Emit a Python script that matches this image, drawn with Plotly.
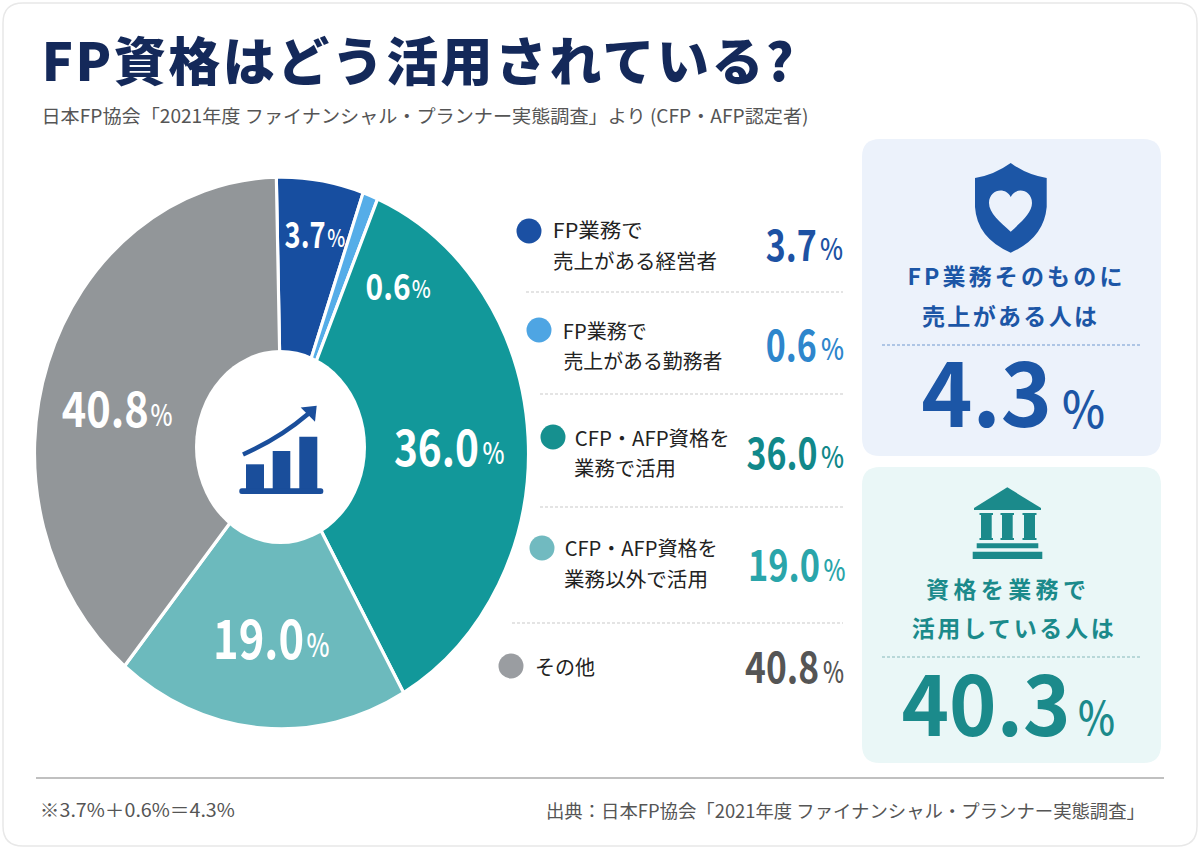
import json
import plotly.graph_objects as go

# ---- data ----
categories = ["FP業務で売上がある経営者", "FP業務で売上がある勤務者", "CFP・AFP資格を業務で活用", "CFP・AFP資格を業務以外で活用", "その他"]
printed_values = [3.7, 0.6, 36.0, 19.0, 40.8]
drawn_shares = [5.7, 1.0, 35.4, 19.2, 38.7]   # slice sizes as actually drawn in the reference
legend_line1 = ["FP業務で", "FP業務で", "CFP・AFP資格を", "CFP・AFP資格を", "その他"]
legend_line2 = ["売上がある経営者", "売上がある勤務者", "業務で活用", "業務以外で活用", ""]
slice_colors = ["#174EA0", "#55ADE8", "#12989A", "#6CBABD", "#929699"]
dot_colors = ["#1B50A3", "#4EA5E3", "#16908F", "#71BAC0", "#9A9DA1"]
value_colors = ["#1D52A3", "#2E86CC", "#11888A", "#2AA5AA", "#555555"]

CJK = "Noto Sans CJK JP, Noto Sans"
fits = []          # per annotation: [target width, length-adjust mode]
annotations = []


def text(x0, x1, y, s, size, color, weight=400, adjust="spacingAndGlyphs"):
    """Place text so its glyphs span x0..x1 with their optical centre on y."""
    fits.append([x1 - x0, adjust])
    annotations.append(dict(x=(x0 + x1) / 2, y=y - 0.09 * size, xref="x", yref="y", text=s, showarrow=False,
                            xanchor="center", yanchor="middle", borderpad=0,
                            font=dict(size=size, color=color, family=CJK, weight=weight)))


def round_rect(x0, y0, x1, y1, r):
    return (f"M{x0+r},{y0} L{x1-r},{y0} Q{x1},{y0} {x1},{y0+r} L{x1},{y1-r} Q{x1},{y1} {x1-r},{y1} "
            f"L{x0+r},{y1} Q{x0},{y1} {x0},{y1-r} L{x0},{y0+r} Q{x0},{y0} {x0+r},{y0} Z")


def path(d, fill, layer="above"):
    return dict(type="path", xref="x", yref="y", path=d, fillcolor=fill, line=dict(width=0), layer=layer)


def hline(y, x0, x1, color, width=1, dash="3px,2px"):
    return dict(type="line", xref="x", yref="y", x0=x0, x1=x1, y0=y, y1=y,
                line=dict(color=color, width=width, dash=dash), layer="above")


W, H = 1200, 849
CX, CY, RY, RX = 281.5, 453, 276, 247

fig = go.Figure()

# legend swatches give the page its pixel-based cartesian axes
dot_x = [529, 539, 553, 542, 511]
dot_y = [231, 330, 437, 548, 666]
fig.add_trace(go.Scatter(x=dot_x, y=dot_y, mode="markers", hoverinfo="skip", showlegend=False,
                         marker=dict(size=25, color=dot_colors, line=dict(width=0))))

fig.add_trace(go.Pie(values=drawn_shares, labels=categories, sort=False, direction="clockwise",
                     rotation=-1.2, textinfo="none", hoverinfo="label", showlegend=False,
                     marker=dict(colors=slice_colors, line=dict(color="white", width=3.5)),
                     domain=dict(x=[(CX - RY) / W, (CX + RY) / W], y=[1 - (CY + RY) / H, 1 - (CY - RY) / H])))

ICON = "#1A4E9B"
BLUE, TEAL = "#1C56A6", "#1B8A8B"
shapes = [
    dict(type="path", xref="x", yref="y", path=round_rect(3, 3, 1197, 846, 20), fillcolor="white",
         line=dict(color="#E8E8E8", width=1.5), layer="below"),
    path(round_rect(862, 139, 1161, 456, 18), "#ECF2FB", "below"),
    path(round_rect(862, 467, 1161, 763, 18), "#EAF7F7", "below"),
    # hub
    dict(type="circle", xref="x", yref="y", x0=195, x1=366, y0=350, y1=544, fillcolor="white",
         line=dict(width=0), layer="above"),
    # rising-chart icon
    path("M246,464.3 L264,464.3 L264,490 L246,490 Z", ICON),
    path("M272.7,451 L290.3,451 L290.3,490 L272.7,490 Z", ICON),
    path("M299.3,436.7 L317.3,436.7 L317.3,490 L299.3,490 Z", ICON),
    path(round_rect(239.3, 488.3, 323.3, 494, 2.5), ICON),
    dict(type="path", xref="x", yref="y", path="M243,454.5 Q280,438 308,414",
         line=dict(color=ICON, width=4.5), layer="above"),
    path("M316.7,405.7 L300.7,407.5 L315,421.7 Z", ICON),
    # separators
    hline(292, 526, 843, "#C9C9C9"), hline(394, 540, 843, "#C9C9C9"),
    hline(507, 540, 843, "#C9C9C9"), hline(623, 512, 843, "#C9C9C9"),
    hline(345, 882, 1140, "#7099CF"), hline(657, 882, 1140, "#86B9BA"),
    hline(778, 36, 1164, "#ABABAB", 1.5, "solid"),
    # shield with heart
    path("M1010.7,163 Q994,175 975,178 L975,207 Q977,238 1010.7,252.7 Q1044,238 1046.7,207 L1046.7,178 "
         "Q1027,175 1010.7,163 Z", BLUE),
    path("M1010.7,231.7 C1000,222 989,213 989,203 C989,190 1005,186 1010.7,197 "
         "C1016,186 1032,190 1032,203 C1032,213 1021,222 1010.7,231.7 Z", "#ECF2FB"),
    # bank
    path("M1007.3,487.3 L1041,508 L1041,510 L974,510 L974,508 Z", TEAL),
    path("M979.5,513 L993,513 L993,515 L991.7,515 L991.7,538 L993,538 L993,540 L979.5,540 L979.5,538 "
         "L981,538 L981,515 L979.5,515 Z", TEAL),
    path("M1000.5,513 L1014,513 L1014,515 L1012.7,515 L1012.7,538 L1014,538 L1014,540 L1000.5,540 L1000.5,538 "
         "L1002,538 L1002,515 L1000.5,515 Z", TEAL),
    path("M1022.5,513 L1036.5,513 L1036.5,515 L1035,515 L1035,538 L1036.5,538 L1036.5,540 L1022.5,540 "
         "L1022.5,538 L1024,538 L1024,515 L1022.5,515 Z", TEAL),
    path("M976.7,543.3 L1038.3,543.3 L1038.3,548.3 L976.7,548.3 Z", TEAL),
    path("M972.7,551.7 L1042.3,551.7 L1042.3,559 L972.7,559 Z", TEAL),
]

# headings and footer
text(41, 793, 63, "FP資格はどう活用されている?", 52, "#14295A", weight=900, adjust="spacing")
text(41, 808, 117, "日本FP協会「2021年度 ファイナンシャル・プランナー実態調査」より (CFP・AFP認定者)", 18.5, "#555555")
text(40, 235, 811, "※3.7%\uFF0B0.6%\uFF1D4.3%", 18, "#555555")
text(546, 1145, 812, "出典\uFF1A日本FP協会「2021年度 ファイナンシャル・プランナー実態調査」", 18, "#555555")

# legend text
line1_span = [(553, 643), (563, 647), (574, 729), (564, 717), (535, 595)]
line2_span = [(553, 717), (563, 722), (574, 676), (564, 708), None]
line1_y = [231, 332, 439, 549, 668]
line2_y = [262, 362, 469, 580, None]
for i in range(5):
    text(*line1_span[i], line1_y[i], legend_line1[i], 20, "#222222")
    if legend_line2[i]:
        text(*line2_span[i], line2_y[i], legend_line2[i], 20, "#222222")

# legend values
val_span = [(766, 817), (766, 817), (746, 817), (748, 820), (745, 819)]
val_y = [246, 346, 454, 566, 668]
pct_span = [(820, 843), (821, 844), (821, 844), (823, 845), (823, 844)]
pct_y = [250, 350, 458, 571, 673]
for i, v in enumerate(printed_values):
    text(*val_span[i], val_y[i], f"{v:.1f}", 43, value_colors[i], weight=700)
    text(*pct_span[i], pct_y[i], "%", 29, value_colors[i], weight=500)

# labels on the pie
lab_span = [(284, 325), (365, 410), (394, 479), (213, 304), (62, 149)]
lab_y = [235, 287, 448, 640, 410]
lab_size = [36, 36, 50, 54, 49]
lab_pct_span = [(327, 345), (412, 431), (482, 504), (306, 329), (150, 172)]
lab_pct_y = [238.5, 290, 454, 646, 416]
lab_pct_size = [24, 24, 29, 32, 29]
for i, v in enumerate(printed_values):
    text(*lab_span[i], lab_y[i], f"{v:.1f}", lab_size[i], "white", weight=700)
    text(*lab_pct_span[i], lab_pct_y[i], "%", lab_pct_size[i], "white", weight=500)

# cards
text(907, 1122, 277, "FP業務そのものに", 23, BLUE, weight=700, adjust="spacing")
text(922, 1097, 317, "売上がある人は", 23, BLUE, weight=700, adjust="spacing")
text(926, 1086, 590, "資格を業務で", 23, TEAL, weight=700, adjust="spacing")
text(911, 1113, 629, "活用している人は", 23, TEAL, weight=700, adjust="spacing")
text(921, 1052, 396, "4.3", 90, BLUE, weight=700)
text(1062, 1105, 410, "%", 50, BLUE, weight=500)
text(901, 1070, 707, "40.3", 84, TEAL, weight=700)
text(1078, 1115, 719, "%", 46, TEAL, weight=500)

axis = dict(visible=False, fixedrange=True)
fig.update_layout(
    width=W, height=H, margin=dict(l=0, r=0, t=0, b=0, pad=0),
    paper_bgcolor="white", plot_bgcolor="rgba(0,0,0,0)",
    xaxis=dict(range=[0, W], domain=[0, 1], **axis),
    yaxis=dict(range=[H, 0], domain=[0, 1], **axis),
    shapes=shapes, annotations=annotations, font=dict(family=CJK),
)

post_script = """
document.body.style.margin = '0';
document.documentElement.style.overflow = 'hidden';
var gd = document.getElementById('{plot_id}');
var fits = %s;
gd.querySelectorAll('g.annotation').forEach(function (g) {
  var f = fits[+g.getAttribute('data-index')], t = g.querySelector('.annotation-text');
  if (f && t) { t.setAttribute('textLength', f[0]); t.setAttribute('lengthAdjust', f[1]); }
});
var cx = %f, sx = %f;
gd.querySelectorAll('.pielayer g.trace').forEach(function (g) {
  g.setAttribute('transform', 'translate(' + cx + ',0) scale(' + sx + ',1) translate(' + (-cx) + ',0)');
});
""" % (json.dumps(fits), CX, RX / RY)

fig.write_html("out.html", post_script=post_script, config=dict(displayModeBar=False, responsive=False))
